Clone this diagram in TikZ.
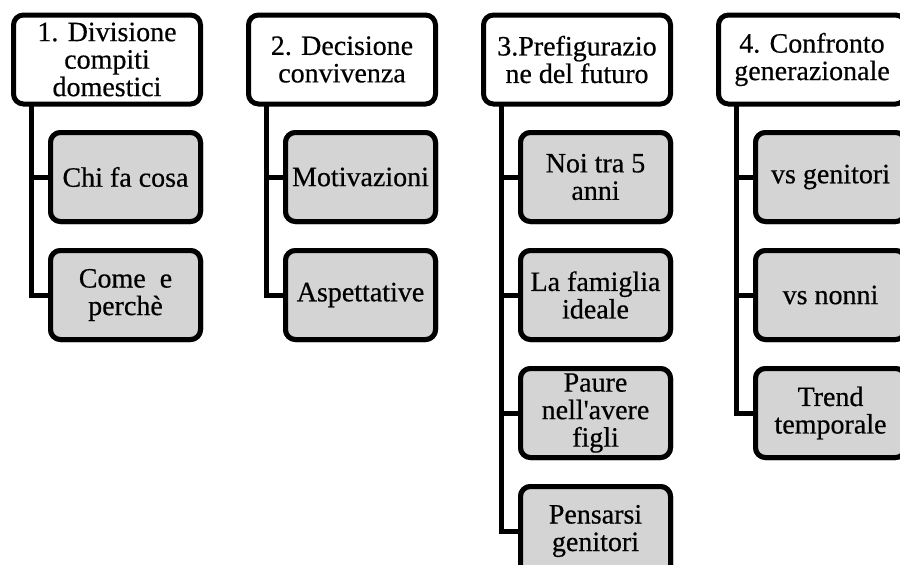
\documentclass[tikz,border=0pt]{standalone}
\usepackage{fontspec}
\setmainfont{Liberation Serif}[FakeBold=0.5]
\definecolor{boxgray}{RGB}{212,212,212}
\tikzset{
  base/.style={draw=black, line width=5pt, rounded corners=10pt, inner sep=0pt,
    align=center, font=\fontsize{28}{27.5}\selectfont},
  headbox/.style={base, fill=white, minimum width=187pt, minimum height=89pt},
  subbox/.style={base, fill=boxgray, minimum width=150pt, minimum height=89pt},
  conn/.style={draw=black, line width=5pt, line join=miter}
}
\begin{document}
\begin{tikzpicture}[x=1pt,y=-1pt]
\useasboundingbox (0,0) rectangle (900,565);
\clip (0,0) rectangle (900,565);
% column 1
\coordinate (t1) at (31.5,104);
\node[subbox] (c11) at (125.5,177) {Chi fa cosa};
\node[subbox] (c12) at (125.5,295) {Come~ e\\perchè};
\draw[conn] (t1) |- (c12.west);
\draw[conn] (t1 |- c11.west) -- (c11.west);
\node[headbox] (h1) at (107,59.5) {1. Divisione\\compiti\\domestici};
\node[subbox] at (c11) {Chi fa cosa};
\node[subbox] at (c12) {Come~ e\\perchè};
% column 2
\coordinate (t2) at (266.5,104);
\node[subbox] (c21) at (360.5,177) {Motivazioni};
\node[subbox] (c22) at (360.5,295) {Aspettative};
\draw[conn] (t2) |- (c22.west);
\draw[conn] (t2 |- c21.west) -- (c21.west);
\node[headbox] (h2) at (342,59.5) {2. Decisione\\convivenza};
\node[subbox] at (c21) {Motivazioni};
\node[subbox] at (c22) {Aspettative};
% column 3
\coordinate (t3) at (501.5,104);
\node[subbox] (c31) at (595.5,177) {Noi tra 5\\anni};
\node[subbox] (c32) at (595.5,295) {La famiglia\\ideale};
\node[subbox] (c33) at (595.5,413) {Paure\\nell\textquotesingle avere\\figli};
\node[subbox] (c34) at (595.5,531) {Pensarsi\\genitori};
\draw[conn] (t3) |- (c34.west);
\draw[conn] (t3 |- c31.west) -- (c31.west);
\draw[conn] (t3 |- c32.west) -- (c32.west);
\draw[conn] (t3 |- c33.west) -- (c33.west);
\node[headbox] (h3) at (577,59.5) {3.Prefigurazio\\ne del futuro};
\node[subbox] at (c31) {Noi tra 5\\anni};
\node[subbox] at (c32) {La famiglia\\ideale};
\node[subbox] at (c33) {Paure\\nell\textquotesingle avere\\figli};
\node[subbox] at (c34) {Pensarsi\\genitori};
% column 4
\coordinate (t4) at (736.5,104);
\node[subbox] (c41) at (830.5,177) {vs genitori};
\node[subbox] (c42) at (830.5,295) {vs nonni};
\node[subbox] (c43) at (830.5,413) {Trend\\temporale};
\draw[conn] (t4) |- (c43.west);
\draw[conn] (t4 |- c41.west) -- (c41.west);
\draw[conn] (t4 |- c42.west) -- (c42.west);
\node[headbox] (h4) at (812,59.5) {4. Confronto\\generazionale};
\node[subbox] at (c41) {vs genitori};
\node[subbox] at (c42) {vs nonni};
\node[subbox] at (c43) {Trend\\temporale};
\end{tikzpicture}
\end{document}
